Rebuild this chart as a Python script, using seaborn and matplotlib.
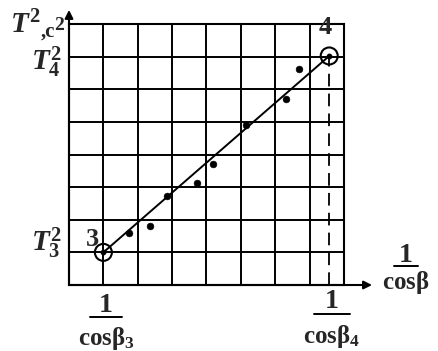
import matplotlib
matplotlib.use("Agg")
import matplotlib.pyplot as plt
from matplotlib.lines import Line2D
import seaborn as sns
import pandas as pd

# Measured points (x = 1/cos(beta), y = T^2)
x_pts = [1.75, 2.35, 2.86, 3.71, 4.18, 5.16, 6.31, 6.70]
y_pts = [1.59, 1.81, 2.74, 3.14, 3.71, 4.91, 5.70, 6.63]

# End states 3 and 4 of the fitted line
end_labels = ["3", "4"]
end_x = [1.0, 7.57]
end_y = [1.0, 7.02]

grid_ticks = list(range(9))

sns.set_style("white")
plt.rcParams["font.family"] = ["Liberation Serif", "DejaVu Serif"]
plt.rcParams["mathtext.fontset"] = "custom"
plt.rcParams["mathtext.rm"] = "Liberation Serif:bold"
plt.rcParams["mathtext.it"] = "Liberation Serif:italic:bold"
plt.rcParams["mathtext.bf"] = "Liberation Serif:bold"

W, H = 439, 351
fig = plt.figure(figsize=(W / 100, H / 100), dpi=100)
fig.patch.set_facecolor("white")


def fx(px):
    return px / W


def fy(py):
    return 1 - py / H


ax = fig.add_axes([fx(69), fy(285), fx(344) - fx(69), fy(24) - fy(285)])
ax.set_xlim(0, 8)
ax.set_ylim(0, 8)
ax.set_xticks(grid_ticks)
ax.set_yticks(grid_ticks)
ax.grid(True, color="black", lw=1.4)
ax.tick_params(length=0, labelbottom=False, labelleft=False)
for s in ax.spines.values():
    s.set_color("black")
    s.set_linewidth(1.5)

pts = pd.DataFrame({"x": x_pts, "y": y_pts})
ends = pd.DataFrame({"x": end_x, "y": end_y, "label": end_labels})

# fitted line between states 3 and 4
sns.lineplot(data=ends, x="x", y="y", ax=ax, color="black", lw=1.4, zorder=4)
# measured points
sns.scatterplot(data=pts, x="x", y="y", ax=ax, color="black", s=24,
                edgecolor="black", zorder=5)
# open circles at the end states
sns.scatterplot(data=ends, x="x", y="y", ax=ax, s=150, facecolor="none",
                edgecolor="black", linewidth=1.5, zorder=6)
ax.scatter(end_x, end_y, s=10, color="black", zorder=6)
ax.set_xlabel("")
ax.set_ylabel("")

# dashed drop line from state 4 to the x axis
ax.plot([end_x[1], end_x[1]], [0, end_y[1]], color="black", lw=1.3,
        dashes=(7, 4), zorder=3)

# axis arrows
ax.annotate("", xy=(0, 1.054), xytext=(0, 0), xycoords="axes fraction",
            arrowprops=dict(arrowstyle="-|>", color="black", lw=1.5,
                            mutation_scale=12, shrinkA=0, shrinkB=0))
ax.annotate("", xy=(1.102, 0), xytext=(0, 0), xycoords="axes fraction",
            arrowprops=dict(arrowstyle="-|>", color="black", lw=1.5,
                            mutation_scale=12, shrinkA=0, shrinkB=0))

# point labels
fig.text(fx(92), fy(239), end_labels[0], fontsize=19, fontweight="bold",
         ha="center", va="center")
fig.text(fx(325), fy(28), end_labels[1], fontsize=19, fontweight="bold",
         ha="center", va="center")

# y-axis labels
fig.text(fx(10), fy(33), r"$T^{2}$", fontsize=21, ha="left", va="baseline")
fig.text(fx(41), fy(37), ",c", fontsize=15, fontweight="bold",
         ha="left", va="baseline")
fig.text(fx(54), fy(30), "2", fontsize=14, fontweight="bold",
         ha="left", va="baseline")
fig.text(fx(62), fy(62), r"$T_{4}^{2}$", fontsize=21, ha="right", va="center")
fig.text(fx(62), fy(243), r"$T_{3}^{2}$", fontsize=21, ha="right", va="center")


def frac_label(cx, y_one, y_bar, bar_half, y_cos, sub):
    fig.text(fx(cx), fy(y_one), "1", fontsize=20, fontweight="bold",
             ha="center", va="center")
    fig.add_artist(Line2D([fx(cx - bar_half), fx(cx + bar_half)],
                          [fy(y_bar), fy(y_bar)], color="black", lw=1.4))
    txt = r"$\mathrm{cos\beta}$" if sub == "" else r"$\mathrm{cos\beta}_{%s}$" % sub
    fig.text(fx(cx), fy(y_cos), txt, fontsize=18, ha="center", va="center")


frac_label(106, 306, 317, 16, 339, "3")
frac_label(332, 302, 314, 18, 336, "4")
frac_label(406, 255, 266, 12, 283, "")

fig.savefig("out.png", dpi=100, facecolor="white")
